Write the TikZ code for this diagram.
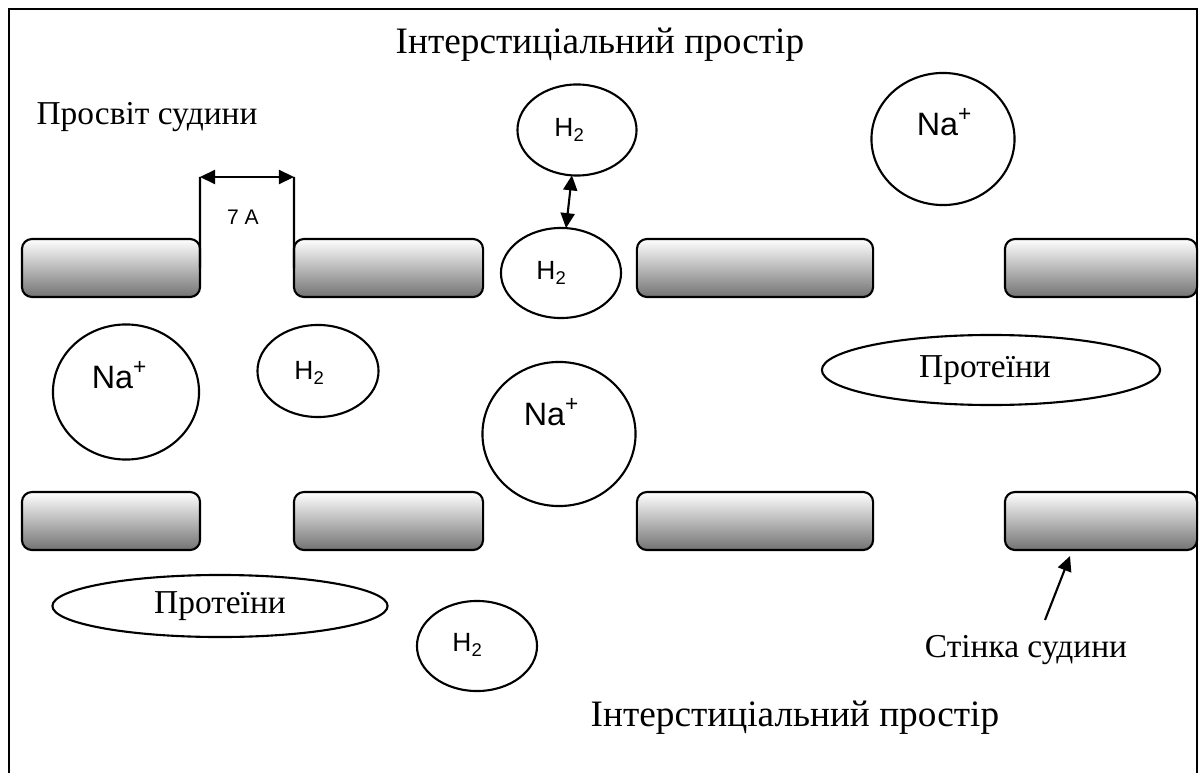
\documentclass[tikz,border=0pt]{standalone}
\usepackage{fontspec}
\setmainfont{Liberation Serif}
\setsansfont{Liberation Sans}
\usetikzlibrary{shapes.geometric,arrows.meta}

\tikzset{
  wall/.style={draw, line width=0.6pt, rounded corners=1mm, top color=white, bottom color=black!55, minimum height=5.8mm, inner sep=0pt, outer sep=0pt},
  particle/.style={draw, ellipse, line width=0.6pt, inner sep=0pt, outer sep=0pt},
  ion/.style={font=\sffamily\fontsize{9.2}{11}\selectfont, inner sep=0pt},
  gas/.style={font=\sffamily\fontsize{7.5}{9}\selectfont, inner sep=0pt},
  caption/.style={font=\fontsize{9.5}{11}\selectfont, inner sep=0pt},
  space/.style={font=\fontsize{10.6}{13}\selectfont, inner sep=0pt},
  tip/.style={-{Triangle[length=1.5mm,width=1.4mm]}, line width=0.6pt},
  both tips/.style={{Triangle[length=1.5mm,width=1.4mm]}-{Triangle[length=1.5mm,width=1.4mm]}, line width=0.6pt},
}

\begin{document}
\begin{tikzpicture}[x=0.01cm, y=-0.01cm]
    \useasboundingbox (0,0) rectangle (1200,773);
    \draw[line width=0.8pt] (9,773) -- (9,9) -- (1197,9) -- (1197,773);

    % vessel walls
    \foreach \n/\cx/\w in {1/111/1.78, 2/388.5/1.89, 3/755/2.36, 4/1101/1.92} {
        \node[wall, minimum width=\w cm] (wall\n a) at (\cx,268) {};
        \node[wall, minimum width=\w cm] (wall\n b) at (\cx,521) {};
    }

    % particles
    \node[particle, minimum width=1.19cm, minimum height=0.91cm] (h2top) at (577,130) {};
    \node[particle, minimum width=1.20cm, minimum height=0.90cm] (h2mid) at (561,273) {};
    \node[particle, minimum width=1.21cm, minimum height=0.92cm] (h2left) at (318,371) {};
    \node[particle, minimum width=1.20cm, minimum height=0.90cm] (h2bot) at (477,646) {};
    \node[particle, minimum width=1.43cm, minimum height=1.32cm] (naright) at (943,139) {};
    \node[particle, minimum width=1.46cm, minimum height=1.35cm] (naleft) at (126,392) {};
    \node[particle, minimum width=1.53cm, minimum height=1.44cm] (namid) at (559,434) {};
    \node[particle, minimum width=3.38cm, minimum height=0.70cm] (protright) at (991,370) {};
    \node[particle, minimum width=3.35cm, minimum height=0.62cm] (protleft) at (220,606) {};

    \node[gas] (h2toptxt) at (570,130) {H\textsubscript{2}};
    \node[gas] (h2midtxt) at (552,273) {H\textsubscript{2}};
    \node[gas] (h2lefttxt) at (310,373) {H\textsubscript{2}};
    \node[gas] (h2bottxt) at (468,645) {H\textsubscript{2}};
    \node[ion] (narighttxt) at (945,122) {Na\textsuperscript{+}};
    \node[ion] (nalefttxt) at (120,375) {Na\textsuperscript{+}};
    \node[ion] (namidtxt) at (552,412) {Na\textsuperscript{+}};
    \node[caption] (protrighttxt) at (985,370) {Протеїни};
    \node[caption] (protlefttxt) at (220,606) {Протеїни};

    % labels
    \node[space] (toplabel) at (600,45) {Інтерстиціальний простір};
    \node[space] (botlabel) at (795,718) {Інтерстиціальний простір};
    \node[caption] (lumen) at (147,117) {Просвіт судини};
    \node[caption] (walllabel) at (1026,650) {Стінка судини};

    % pore width
    \coordinate (gapl) at (200,177);
    \coordinate (gapr) at (294,177);
    \draw[line width=0.6pt] (gapl) -- (wall1a.east);
    \draw[line width=0.6pt] (gapr) -- (wall2a.west);
    \draw[both tips] (gapl) -- (gapr);
    \node[gas, font=\sffamily\fontsize{6}{7}\selectfont] (gapsize) at (243,217) {7 A};

    \draw[both tips] (h2mid) -- (h2top);
    \coordinate (walltail) at (1045,620);
    \coordinate (wallhead) at (1070,556);
    \draw[tip] (walltail) -- (wallhead);
\end{tikzpicture}
\end{document}
